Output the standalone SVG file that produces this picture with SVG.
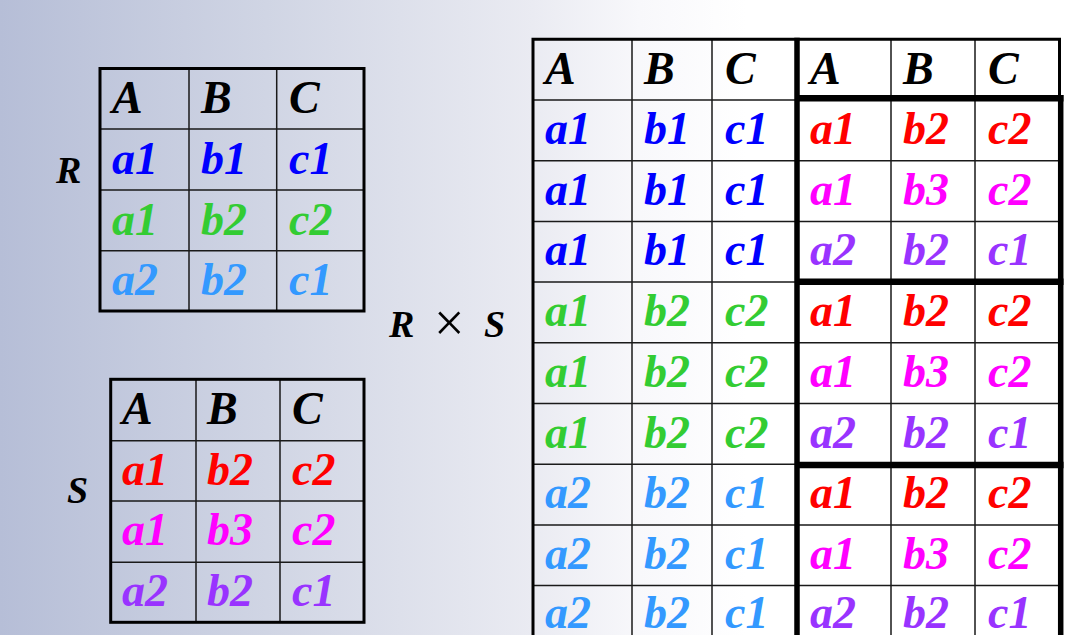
<svg xmlns="http://www.w3.org/2000/svg" width="1066" height="635" viewBox="0 0 1066 635">
<defs>
<linearGradient id="bg" x1="0" y1="0" x2="1066" y2="0" gradientUnits="userSpaceOnUse">
<stop offset="0" stop-color="#b6bed7"/>
<stop offset="0.25" stop-color="#d0d5e4"/>
<stop offset="0.5" stop-color="#eaebf2"/>
<stop offset="0.6" stop-color="#f8f8fb"/>
<stop offset="0.7" stop-color="#ffffff"/>
<stop offset="1" stop-color="#ffffff"/>
</linearGradient>
</defs>
<style>
.t{font-family:"Liberation Serif","Times New Roman",serif;font-weight:bold;font-style:italic;font-size:46px}
.lbl{font-family:"Liberation Serif","Times New Roman",serif;font-weight:bold;font-style:italic;font-size:38px;fill:#000}
.times{font-family:"Liberation Serif","Times New Roman",serif;font-size:54px;fill:#000}
.k{fill:#000}.bl{fill:#0000ff}.gr{fill:#33cc33}.lb{fill:#3399ff}.rd{fill:#ff0000}.mg{fill:#ff00ff}.pu{fill:#9933ff}
.thin{stroke:#1a1a1a;stroke-width:1.5;fill:none}
.thick{stroke:#000;stroke-width:3;fill:none}
.heavy{stroke:#000;stroke-width:5.5;fill:none}
</style>
<rect width="1066" height="635" fill="url(#bg)"/>

<g id="label-R"><text class="lbl" x="56" y="183">R</text></g>
<g id="label-S"><text class="lbl" x="67" y="503">S</text></g>
<g id="label-RxS"><text class="lbl" x="389" y="337">R</text><text class="times" x="434" y="341">×</text><text class="lbl" x="484" y="337">S</text></g>

<g id="table-R">
<path class="thin" d="M189 68.5V311M276.7 68.5V311M100 129H364M100 190H364M100 250.7H364"/>
<rect class="thick" x="100" y="68.5" width="264" height="242.5"/>
<text class="t k" x="112" y="113">A</text><text class="t k" x="201" y="113">B</text><text class="t k" x="289" y="113">C</text>
<text class="t bl" x="112" y="173.5">a1</text><text class="t bl" x="201" y="173.5">b1</text><text class="t bl" x="289" y="173.5">c1</text>
<text class="t gr" x="112" y="234.5">a1</text><text class="t gr" x="201" y="234.5">b2</text><text class="t gr" x="289" y="234.5">c2</text>
<text class="t lb" x="112" y="295">a2</text><text class="t lb" x="201" y="295">b2</text><text class="t lb" x="289" y="295">c1</text>
</g>

<g id="table-S">
<path class="thin" d="M196 379.3V622.3M280 379.3V622.3M110.7 440.7H364M110.7 501H364M110.7 562.3H364"/>
<rect class="thick" x="110.7" y="379.3" width="253.3" height="243"/>
<text class="t k" x="122" y="424">A</text><text class="t k" x="207" y="424">B</text><text class="t k" x="292" y="424">C</text>
<text class="t rd" x="122" y="485">a1</text><text class="t rd" x="207" y="485">b2</text><text class="t rd" x="292" y="485">c2</text>
<text class="t mg" x="122" y="545">a1</text><text class="t mg" x="207" y="545">b3</text><text class="t mg" x="292" y="545">c2</text>
<text class="t pu" x="122" y="606">a2</text><text class="t pu" x="207" y="606">b2</text><text class="t pu" x="292" y="606">c1</text>
</g>

<g id="table-RxS">
<g id="grid">
<path class="thin" d="M632 39V635M712 39V635M891 39V635M975 39V635"/>
<path class="thin" d="M533 100H797M533 160.7H797M533 221.4H797M533 282H797M533 342.8H797M533 403.5H797M533 464.2H797M533 525H797M533 585.5H797"/>
<path class="thin" d="M797 160.7H1060M797 221.4H1060M797 342.8H1060M797 403.5H1060M797 525H1060M797 585.5H1060"/>
<path class="thick" d="M533 37.8V635M531.5 39.3H1061M1059.5 38V98"/>
<path class="heavy" d="M797 37.8V635M1060.7 95V635"/>
<path d="M797 98.3H1063.5M797 281.7H1063.5M797 465H1063.5" stroke="#000" stroke-width="6.5" fill="none"/>
</g>
<g id="cells">
<text class="t k" x="545" y="83.5">A</text><text class="t k" x="644" y="83.5">B</text><text class="t k" x="725" y="83.5">C</text>
<text class="t k" x="810" y="83.5">A</text><text class="t k" x="903" y="83.5">B</text><text class="t k" x="988" y="83.5">C</text>

<text class="t bl" x="545" y="144">a1</text><text class="t bl" x="644" y="144">b1</text><text class="t bl" x="725" y="144">c1</text>
<text class="t rd" x="810" y="144">a1</text><text class="t rd" x="903" y="144">b2</text><text class="t rd" x="988" y="144">c2</text>

<text class="t bl" x="545" y="204.7">a1</text><text class="t bl" x="644" y="204.7">b1</text><text class="t bl" x="725" y="204.7">c1</text>
<text class="t mg" x="810" y="204.7">a1</text><text class="t mg" x="903" y="204.7">b3</text><text class="t mg" x="988" y="204.7">c2</text>

<text class="t bl" x="545" y="265.4">a1</text><text class="t bl" x="644" y="265.4">b1</text><text class="t bl" x="725" y="265.4">c1</text>
<text class="t pu" x="810" y="265.4">a2</text><text class="t pu" x="903" y="265.4">b2</text><text class="t pu" x="988" y="265.4">c1</text>

<text class="t gr" x="545" y="326.1">a1</text><text class="t gr" x="644" y="326.1">b2</text><text class="t gr" x="725" y="326.1">c2</text>
<text class="t rd" x="810" y="326.1">a1</text><text class="t rd" x="903" y="326.1">b2</text><text class="t rd" x="988" y="326.1">c2</text>

<text class="t gr" x="545" y="386.8">a1</text><text class="t gr" x="644" y="386.8">b2</text><text class="t gr" x="725" y="386.8">c2</text>
<text class="t mg" x="810" y="386.8">a1</text><text class="t mg" x="903" y="386.8">b3</text><text class="t mg" x="988" y="386.8">c2</text>

<text class="t gr" x="545" y="447.5">a1</text><text class="t gr" x="644" y="447.5">b2</text><text class="t gr" x="725" y="447.5">c2</text>
<text class="t pu" x="810" y="447.5">a2</text><text class="t pu" x="903" y="447.5">b2</text><text class="t pu" x="988" y="447.5">c1</text>

<text class="t lb" x="545" y="508.2">a2</text><text class="t lb" x="644" y="508.2">b2</text><text class="t lb" x="725" y="508.2">c1</text>
<text class="t rd" x="810" y="508.2">a1</text><text class="t rd" x="903" y="508.2">b2</text><text class="t rd" x="988" y="508.2">c2</text>

<text class="t lb" x="545" y="568.9">a2</text><text class="t lb" x="644" y="568.9">b2</text><text class="t lb" x="725" y="568.9">c1</text>
<text class="t mg" x="810" y="568.9">a1</text><text class="t mg" x="903" y="568.9">b3</text><text class="t mg" x="988" y="568.9">c2</text>

<text class="t lb" x="545" y="627.5">a2</text><text class="t lb" x="644" y="627.5">b2</text><text class="t lb" x="725" y="627.5">c1</text>
<text class="t pu" x="810" y="627.5">a2</text><text class="t pu" x="903" y="627.5">b2</text><text class="t pu" x="988" y="627.5">c1</text>
</g>
</g>
</svg>
